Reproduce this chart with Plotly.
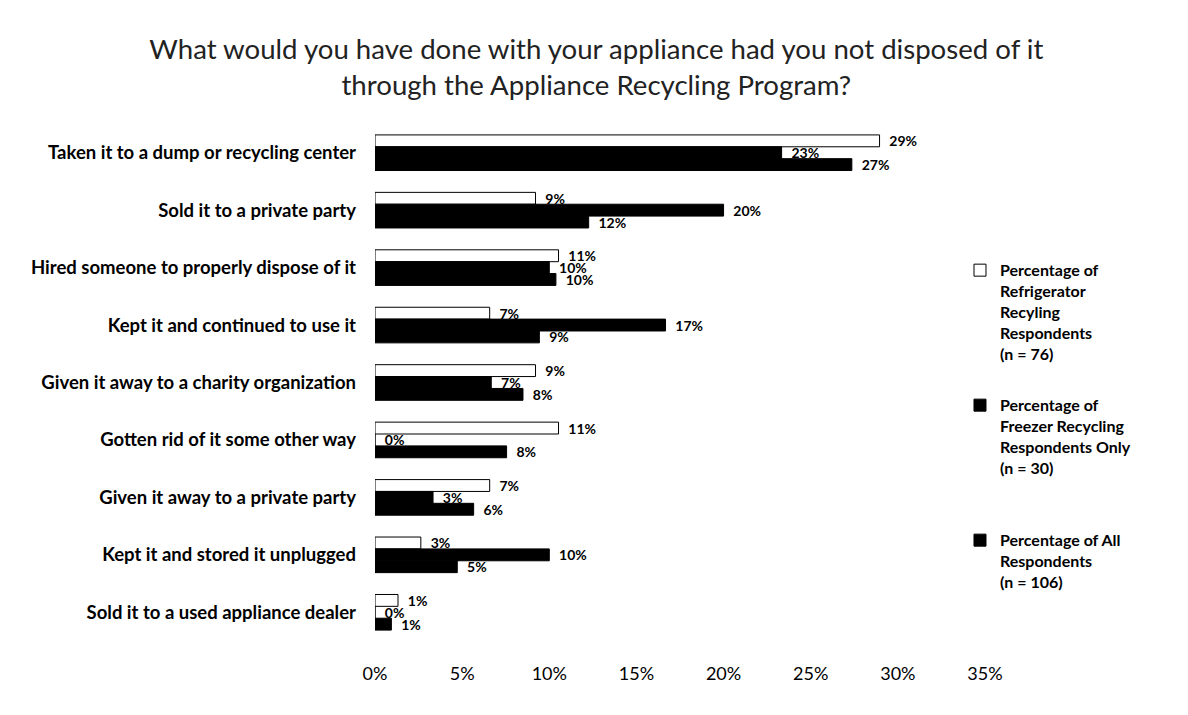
import plotly.graph_objects as go

categories = [
    "Taken it to a dump or recycling center",
    "Sold it to a private party",
    "Hired someone to properly dispose of it",
    "Kept it and continued to use it",
    "Given it away to a charity organization",
    "Gotten rid of it some other way",
    "Given it away to a private party",
    "Kept it and stored it unplugged",
    "Sold it to a used appliance dealer",
]
refrigerator = [28.95, 9.21, 10.53, 6.58, 9.21, 10.53, 6.58, 2.63, 1.32]
freezer = [23.33, 20.0, 10.0, 16.67, 6.67, 0.0, 3.33, 10.0, 0.0]
all_resp = [27.36, 12.26, 10.38, 9.43, 8.49, 7.55, 5.66, 4.72, 0.94]
x_ticks = [0, 5, 10, 15, 20, 25, 30, 35]
x_tick_labels = ["0%", "5%", "10%", "15%", "20%", "25%", "30%", "35%"]

names = [
    "Percentage of<br>Refrigerator<br>Recyling<br>Respondents<br>(n = 76)",
    "Percentage of<br>Freezer Recycling<br>Respondents Only<br>(n = 30)<br> ",
    "Percentage of All<br>Respondents<br>(n = 106)",
]

FONT = "Lato"
fig = go.Figure()
series = [refrigerator, freezer, all_resp]
fills = ["#ffffff", "#000000", "#000000"]
for i, (vals, name, fill) in enumerate(zip(series, names, fills)):
    fig.add_trace(go.Bar(
        y=categories, x=vals, name=name, orientation="h",
        marker=dict(color=fill, line=dict(color="#000000", width=1)),
        text=[f"{v:.0f}%" for v in vals],
        texttemplate="  %{text}",
        textposition="outside", constraintext="none", cliponaxis=False,
        textfont=dict(family=FONT, size=14, color="#000000", weight="bold"),
        legendgroup=f"g{i}",
    ))

fig.update_layout(
    width=1172, height=699,
    margin=dict(l=367, r=195, t=116, b=66),
    paper_bgcolor="white", plot_bgcolor="white",
    barmode="group", bargap=0.38, bargroupgap=0,
    font=dict(family=FONT, color="#000000"),
    title=dict(
        text="What would you have done with your appliance had you not disposed of it<br>through the Appliance Recycling Program?",
        x=0.502, xanchor="center", y=0.927, yanchor="middle",
        font=dict(family=FONT, size=27.6, color="#222222"),
    ),
    legend=dict(
        x=0.959, xanchor="left", y=0.75, yanchor="top",
        traceorder="grouped", tracegroupgap=28, itemwidth=30, valign="top",
        font=dict(family=FONT, size=16, color="#000000", weight="bold"),
        bgcolor="rgba(0,0,0,0)",
    ),
    showlegend=True,
)
fig.update_xaxes(
    range=[0, 35], tickvals=x_ticks, ticktext=x_tick_labels,
    showgrid=False, zeroline=False, showline=False,
    ticks="outside", ticklen=16, tickcolor="rgba(0,0,0,0)",
    tickfont=dict(family=FONT, size=18, color="#000000"),
)
fig.update_yaxes(
    autorange="reversed", showgrid=False, zeroline=False, showline=False,
    ticklabelstandoff=18,
    tickfont=dict(family=FONT, size=18.5, color="#000000", weight="bold"),
)

fig.write_html("out.html")
